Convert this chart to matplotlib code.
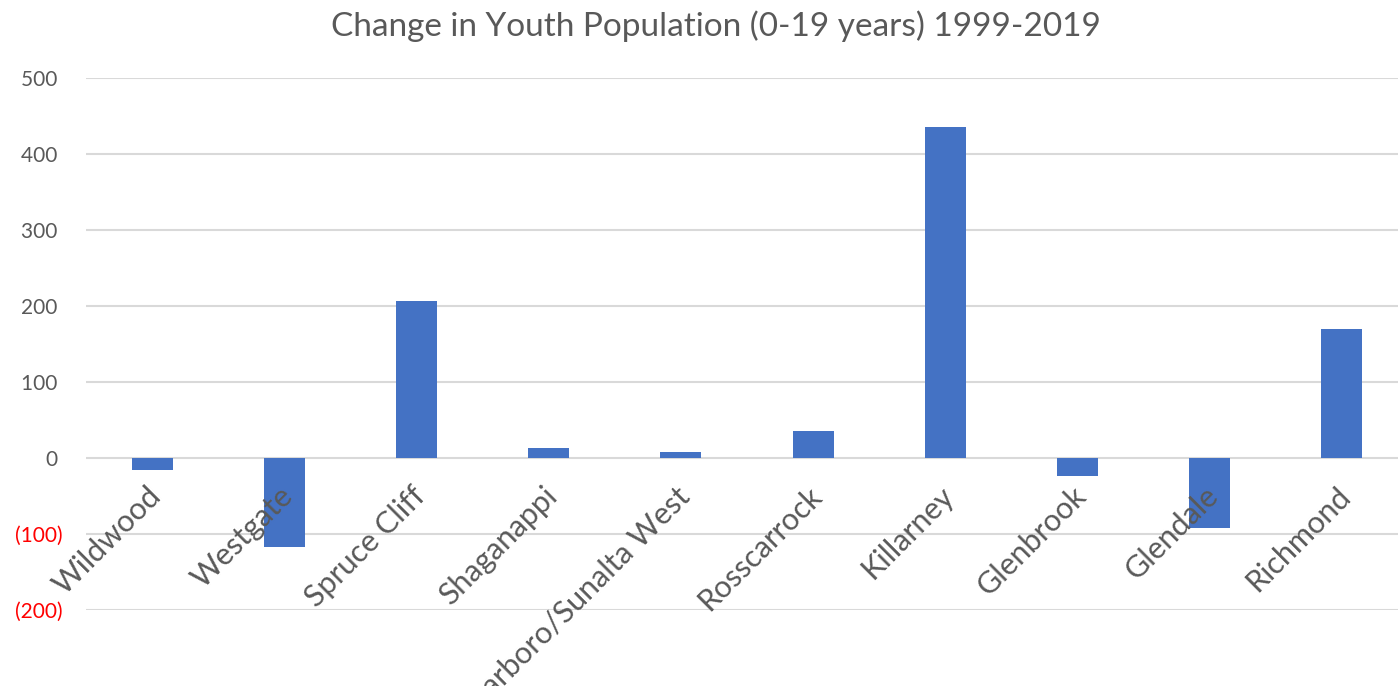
import matplotlib
matplotlib.use("Agg")
import matplotlib.pyplot as plt
import matplotlib.transforms as mtransforms
from matplotlib.ticker import FuncFormatter

# значения
communities = ["Wildwood", "Westgate", "Spruce Cliff", "Shaganappi",
               "Scarboro/Sunalta West", "Rosscarrock", "Killarney",
               "Glenbrook", "Glendale", "Richmond"]
youth_change = [-16, -117, 207, 13, 8, 35, 435, -24, -92, 170]
y_ticks = [-200, -100, 0, 100, 200, 300, 400, 500]

TEXT = "#595959"
GRID = "#D9D9D9"
BAR = "#4472C4"

plt.rcParams["font.family"] = ["Lato", "DejaVu Sans"]

fig = plt.figure(figsize=(13.98, 6.86), dpi=100)
# область графика чуть шире картинки, как в Excel
ax = fig.add_axes([86 / 1398, 76 / 686, 1322 / 1398, 532 / 686])

# сетка под столбцами, подписи поверх столбцов
for t in y_ticks:
    ax.axhline(t, color=GRID, linewidth=1.5, zorder=0)

x = range(len(communities))
ax.bar(x, youth_change, width=0.31, color=BAR, zorder=1)

ax.set_xlim(-0.5, len(communities) - 0.5)
ax.set_ylim(-200, 500)
ax.set_yticks(y_ticks)
ax.yaxis.set_major_formatter(
    FuncFormatter(lambda v, p: "({:d})".format(int(-v)) if v < 0 else "{:d} ".format(int(v))))

for s in ax.spines.values():
    s.set_visible(False)
# подписи категорий идут от нулевой линии
ax.spines["bottom"].set_position(("data", 0))

ax.tick_params(axis="y", length=0, pad=16.5, labelsize=15, labelcolor=TEXT)
ax.tick_params(axis="x", length=0, pad=17, labelsize=22, labelcolor=TEXT)
ax.set_xticks(list(x))
ax.set_xticklabels(communities, rotation=45, ha="right", rotation_mode="anchor")

shift = mtransforms.ScaledTranslation(-6 / 100, 0, fig.dpi_scale_trans)
for lab in ax.get_xticklabels():
    lab.set_transform(lab.get_transform() + shift)

for lab, v in zip(ax.get_yticklabels(), y_ticks):
    if v < 0:
        lab.set_color("red")

fig.suptitle("Change in Youth Population (0-19 years) 1999-2019",
             fontsize=24, color=TEXT, x=716 / 1398, y=1 - 26 / 686, va="center")

fig.savefig("out.png", dpi=100)
